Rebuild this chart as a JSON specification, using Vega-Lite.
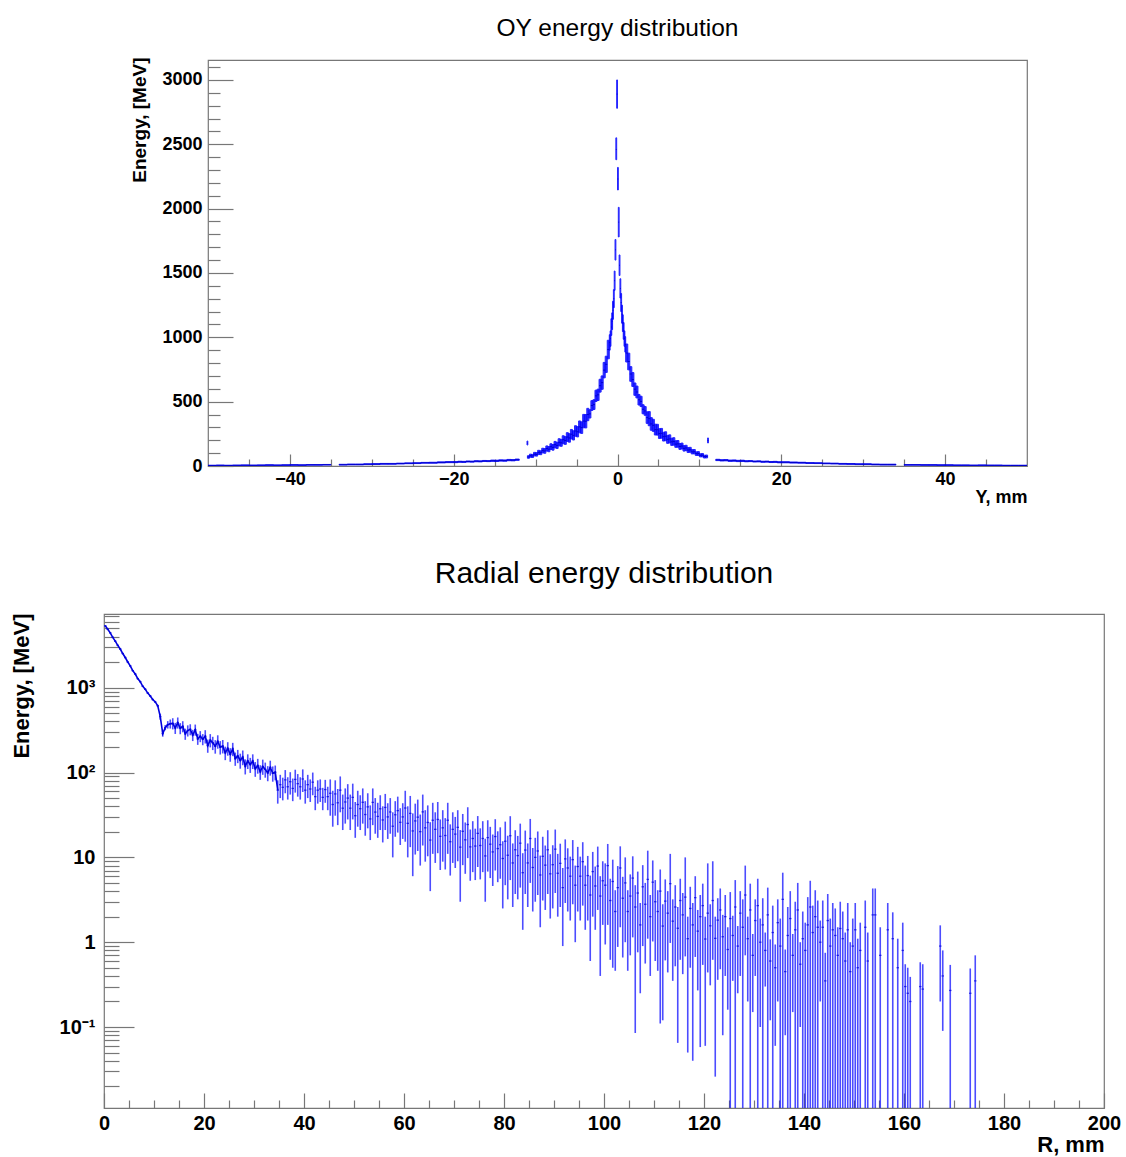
{
"$schema": "https://vega.github.io/schema/vega-lite/v6.json",
"background": "white",
"padding": {"left": 9, "top": 14, "right": 5, "bottom": 5},
"config": {
  "view": {"stroke": "#777777", "strokeWidth": 1.2},
  "font": "Liberation Sans",
  "axis": {"grid": false, "domain": false, "labelFont": "Liberation Sans", "labelFontWeight": "bold", "labelColor": "#000000", "titleFont": "Liberation Sans", "titleFontWeight": "bold", "titleColor": "#000000", "tickColor": "#777777", "tickWidth": 1.2, "labelOverlap": false, "labelFlush": false},
  "title": {"font": "Liberation Sans", "fontWeight": "normal", "color": "#000000"}
},
"spacing": 51,
"vconcat": [
{
  "spacing": 0,
  "align": "each",
  "hconcat": [
    {"width": 25, "height": 406, "data": {"values": [{}]}, "mark": {"type": "point", "opacity": 0}, "view": {"stroke": null}},
    {
      "width": 819, "height": 406,
      "title": {"text": "OY energy distribution", "fontSize": 24.5, "anchor": "middle", "frame": "group", "baseline": "alphabetic", "offset": -3},
      "data": {"values": [
{"a":-50,"b":-49,"v":4,"l":2,"h":6},{"a":-49,"b":-48,"v":5,"l":3,"h":7},{"a":-48,"b":-47,"v":4,"l":2,"h":6},{"a":-47,"b":-46,"v":5,"l":3,"h":7},{"a":-46,"b":-45,"v":6,"l":4,"h":8},{"a":-45,"b":-44,"v":5,"l":3,"h":7},{"a":-44,"b":-43,"v":6,"l":4,"h":8},{"a":-43,"b":-42,"v":7,"l":5,"h":9},{"a":-42,"b":-41,"v":6,"l":4,"h":8},{"a":-41,"b":-40,"v":7,"l":5,"h":9},
{"a":-40,"b":-39,"v":8,"l":6,"h":10},{"a":-39,"b":-38,"v":7,"l":5,"h":9},{"a":-38,"b":-37,"v":9,"l":7,"h":11},{"a":-37,"b":-36,"v":9,"l":7,"h":11},{"a":-36,"b":-35,"v":10,"l":8,"h":12},
{"a":-34,"b":-33,"v":10,"l":8,"h":13},{"a":-33,"b":-32,"v":12,"l":9,"h":15},{"a":-32,"b":-31,"v":12,"l":9,"h":15},{"a":-31,"b":-30,"v":14,"l":11,"h":17},{"a":-30,"b":-29,"v":15,"l":12,"h":18},{"a":-29,"b":-28,"v":17,"l":14,"h":20},{"a":-28,"b":-27,"v":17,"l":14,"h":20},{"a":-27,"b":-26,"v":19,"l":16,"h":22},{"a":-26,"b":-25,"v":21,"l":18,"h":24},{"a":-25,"b":-24,"v":22,"l":19,"h":25},{"a":-24,"b":-23,"v":25,"l":22,"h":28},{"a":-23,"b":-22,"v":25,"l":22,"h":29},{"a":-22,"b":-21,"v":28,"l":24,"h":32},{"a":-21,"b":-20,"v":30,"l":26,"h":34},
{"a":-20,"b":-19.5,"v":30,"l":26,"h":34},{"a":-19.5,"b":-19,"v":33,"l":29,"h":37},{"a":-19,"b":-18.5,"v":32,"l":28,"h":36},{"a":-18.5,"b":-18,"v":35,"l":31,"h":39},{"a":-18,"b":-17.5,"v":34,"l":30,"h":38},{"a":-17.5,"b":-17,"v":37,"l":33,"h":41},{"a":-17,"b":-16.5,"v":36,"l":32,"h":40},{"a":-16.5,"b":-16,"v":39,"l":35,"h":43},{"a":-16,"b":-15.5,"v":38,"l":34,"h":42},{"a":-15.5,"b":-15,"v":41,"l":36,"h":46},{"a":-15,"b":-14.5,"v":40,"l":35,"h":45},{"a":-14.5,"b":-14,"v":43,"l":38,"h":48},{"a":-14,"b":-13.5,"v":42,"l":37,"h":47},{"a":-13.5,"b":-13,"v":46,"l":41,"h":51},{"a":-13,"b":-12.5,"v":45,"l":40,"h":50},{"a":-12.5,"b":-12,"v":49,"l":44,"h":54},
{"a":-11.05,"b":-10.95,"v":178,"l":163,"h":194},
{"a":-11,"b":-10.75,"v":70,"l":60,"h":80},{"a":-10.75,"b":-10.5,"v":80,"l":68,"h":92},{"a":-10.5,"b":-10.25,"v":78,"l":66,"h":90},{"a":-10.25,"b":-10,"v":92,"l":78,"h":106},{"a":-10,"b":-9.75,"v":90,"l":77,"h":104},{"a":-9.75,"b":-9.5,"v":106,"l":90,"h":122},{"a":-9.5,"b":-9.25,"v":103,"l":88,"h":118},{"a":-9.25,"b":-9,"v":120,"l":102,"h":138},{"a":-9,"b":-8.75,"v":117,"l":99,"h":135},{"a":-8.75,"b":-8.5,"v":136,"l":116,"h":156},
{"a":-8.5,"b":-8.25,"v":131,"l":111,"h":151},{"a":-8.25,"b":-8,"v":150,"l":128,"h":173},{"a":-8,"b":-7.75,"v":145,"l":123,"h":167},{"a":-7.75,"b":-7.5,"v":166,"l":141,"h":191},{"a":-7.5,"b":-7.25,"v":160,"l":136,"h":184},{"a":-7.25,"b":-7,"v":184,"l":156,"h":212},{"a":-7,"b":-6.75,"v":180,"l":153,"h":207},{"a":-6.75,"b":-6.5,"v":204,"l":173,"h":235},{"a":-6.5,"b":-6.25,"v":198,"l":168,"h":228},{"a":-6.25,"b":-6,"v":225,"l":191,"h":259},
{"a":-6,"b":-5.75,"v":218,"l":185,"h":251},{"a":-5.75,"b":-5.5,"v":247,"l":210,"h":284},{"a":-5.5,"b":-5.25,"v":238,"l":202,"h":274},{"a":-5.25,"b":-5,"v":272,"l":231,"h":313},{"a":-5,"b":-4.75,"v":266,"l":226,"h":306},{"a":-4.75,"b":-4.5,"v":304,"l":258,"h":350},{"a":-4.5,"b":-4.25,"v":298,"l":253,"h":343},{"a":-4.25,"b":-4,"v":349,"l":297,"h":401},{"a":-4,"b":-3.75,"v":348,"l":296,"h":400},{"a":-3.75,"b":-3.5,"v":400,"l":352,"h":448},
{"a":-3.5,"b":-3.25,"v":405,"l":373,"h":437},{"a":-3.25,"b":-3,"v":470,"l":432,"h":508},{"a":-3,"b":-2.75,"v":477,"l":439,"h":515},{"a":-2.75,"b":-2.5,"v":545,"l":501,"h":589},{"a":-2.5,"b":-2.25,"v":553,"l":509,"h":597},{"a":-2.25,"b":-2,"v":624,"l":574,"h":674},{"a":-2,"b":-1.75,"v":648,"l":596,"h":700},{"a":-1.75,"b":-1.5,"v":745,"l":685,"h":805},{"a":-1.5,"b":-1.25,"v":790,"l":727,"h":853},{"a":-1.25,"b":-1,"v":905,"l":833,"h":977},
{"a":-1,"b":-0.9,"v":960,"l":900,"h":1020},{"a":-0.9,"b":-0.8,"v":990,"l":930,"h":1050},{"a":-0.8,"b":-0.7,"v":1080,"l":1015,"h":1145},{"a":-0.7,"b":-0.6,"v":1125,"l":1060,"h":1190},{"a":-0.6,"b":-0.5,"v":1210,"l":1140,"h":1280},{"a":-0.5,"b":-0.4,"v":1300,"l":1230,"h":1370},{"a":-0.4,"b":-0.3,"v":1440,"l":1365,"h":1515},{"a":-0.3,"b":-0.2,"v":1680,"l":1600,"h":1760},{"a":-0.2,"b":-0.1,"v":2460,"l":2380,"h":2550},{"a":-0.1,"b":0,"v":2890,"l":2780,"h":3000},
{"a":0,"b":0.1,"v":2230,"l":2145,"h":2320},{"a":0.1,"b":0.2,"v":1895,"l":1780,"h":2010},{"a":0.2,"b":0.3,"v":1560,"l":1480,"h":1640},{"a":0.3,"b":0.4,"v":1380,"l":1305,"h":1455},{"a":0.4,"b":0.5,"v":1270,"l":1200,"h":1340},{"a":0.5,"b":0.6,"v":1180,"l":1110,"h":1250},{"a":0.6,"b":0.7,"v":1110,"l":1045,"h":1175},{"a":0.7,"b":0.8,"v":1050,"l":985,"h":1115},{"a":0.8,"b":0.9,"v":990,"l":930,"h":1050},{"a":0.9,"b":1,"v":945,"l":885,"h":1005},
{"a":1,"b":1.25,"v":878,"l":808,"h":948},{"a":1.25,"b":1.5,"v":812,"l":747,"h":877},{"a":1.5,"b":1.75,"v":715,"l":658,"h":772},{"a":1.75,"b":2,"v":672,"l":618,"h":726},{"a":2,"b":2.25,"v":597,"l":549,"h":645},{"a":2.25,"b":2.5,"v":575,"l":529,"h":621},{"a":2.5,"b":2.75,"v":515,"l":474,"h":556},{"a":2.75,"b":3,"v":502,"l":462,"h":542},{"a":3,"b":3.25,"v":441,"l":406,"h":476},{"a":3.25,"b":3.5,"v":428,"l":394,"h":462},
{"a":3.5,"b":3.75,"v":376,"l":331,"h":421},{"a":3.75,"b":4,"v":368,"l":313,"h":423},{"a":4,"b":4.25,"v":327,"l":278,"h":376},{"a":4.25,"b":4.5,"v":316,"l":269,"h":363},{"a":4.5,"b":4.75,"v":283,"l":241,"h":325},{"a":4.75,"b":5,"v":282,"l":240,"h":324},{"a":5,"b":5.25,"v":252,"l":214,"h":290},{"a":5.25,"b":5.5,"v":254,"l":216,"h":292},{"a":5.5,"b":5.75,"v":228,"l":194,"h":262},{"a":5.75,"b":6,"v":231,"l":196,"h":266},
{"a":6,"b":6.25,"v":207,"l":176,"h":238},{"a":6.25,"b":6.5,"v":210,"l":179,"h":242},{"a":6.5,"b":6.75,"v":188,"l":160,"h":216},{"a":6.75,"b":7,"v":191,"l":162,"h":220},{"a":7,"b":7.25,"v":170,"l":145,"h":196},{"a":7.25,"b":7.5,"v":172,"l":146,"h":198},{"a":7.5,"b":7.75,"v":152,"l":129,"h":175},{"a":7.75,"b":8,"v":155,"l":132,"h":178},{"a":8,"b":8.25,"v":137,"l":116,"h":158},{"a":8.25,"b":8.5,"v":140,"l":119,"h":161},
{"a":8.5,"b":8.75,"v":124,"l":105,"h":143},{"a":8.75,"b":9,"v":126,"l":107,"h":145},{"a":9,"b":9.25,"v":110,"l":94,"h":127},{"a":9.25,"b":9.5,"v":111,"l":94,"h":128},{"a":9.5,"b":9.75,"v":96,"l":82,"h":110},{"a":9.75,"b":10,"v":97,"l":82,"h":112},{"a":10,"b":10.25,"v":83,"l":71,"h":95},{"a":10.25,"b":10.5,"v":84,"l":71,"h":97},{"a":10.5,"b":10.75,"v":73,"l":62,"h":84},{"a":10.75,"b":11,"v":74,"l":63,"h":85},
{"a":11,"b":11.1,"v":198,"l":179,"h":218},
{"a":12,"b":12.5,"v":47,"l":42,"h":52},{"a":12.5,"b":13,"v":44,"l":39,"h":49},{"a":13,"b":13.5,"v":45,"l":40,"h":50},{"a":13.5,"b":14,"v":41,"l":36,"h":46},{"a":14,"b":14.5,"v":42,"l":37,"h":47},{"a":14.5,"b":15,"v":39,"l":34,"h":44},{"a":15,"b":15.5,"v":40,"l":35,"h":45},{"a":15.5,"b":16,"v":37,"l":33,"h":41},{"a":16,"b":16.5,"v":38,"l":34,"h":42},{"a":16.5,"b":17,"v":35,"l":31,"h":39},{"a":17,"b":17.5,"v":36,"l":32,"h":40},{"a":17.5,"b":18,"v":33,"l":29,"h":37},{"a":18,"b":18.5,"v":34,"l":30,"h":38},{"a":18.5,"b":19,"v":31,"l":27,"h":35},{"a":19,"b":19.5,"v":32,"l":28,"h":36},{"a":19.5,"b":20,"v":29,"l":25,"h":33},
{"a":20,"b":21,"v":29,"l":25,"h":33},{"a":21,"b":22,"v":27,"l":23,"h":31},{"a":22,"b":23,"v":26,"l":22,"h":29},{"a":23,"b":24,"v":23,"l":20,"h":26},{"a":24,"b":25,"v":22,"l":19,"h":25},{"a":25,"b":26,"v":20,"l":17,"h":23},{"a":26,"b":27,"v":19,"l":16,"h":22},{"a":27,"b":28,"v":17,"l":14,"h":20},{"a":28,"b":29,"v":16,"l":13,"h":19},{"a":29,"b":30,"v":14,"l":11,"h":17},{"a":30,"b":31,"v":14,"l":11,"h":17},{"a":31,"b":32,"v":12,"l":9,"h":15},{"a":32,"b":33,"v":11,"l":8,"h":14},{"a":33,"b":34,"v":11,"l":8,"h":14},
{"a":35,"b":36,"v":9,"l":7,"h":11},{"a":36,"b":37,"v":9,"l":7,"h":11},{"a":37,"b":38,"v":8,"l":6,"h":10},{"a":38,"b":39,"v":8,"l":6,"h":10},{"a":39,"b":40,"v":7,"l":5,"h":9},{"a":40,"b":41,"v":7,"l":5,"h":9},{"a":41,"b":42,"v":6,"l":4,"h":8},{"a":42,"b":43,"v":6,"l":4,"h":8},{"a":43,"b":44,"v":5,"l":3,"h":7},{"a":44,"b":45,"v":6,"l":4,"h":8},{"a":45,"b":46,"v":5,"l":3,"h":7},{"a":46,"b":47,"v":5,"l":3,"h":7},{"a":47,"b":48,"v":4,"l":2,"h":6},{"a":48,"b":49,"v":4,"l":2,"h":6},{"a":49,"b":50,"v":4,"l":2,"h":6}
      ]},
      "layer": [
        {
          "mark": {"type": "rect", "color": "#0000ff", "stroke": "#0000ff", "strokeWidth": 1, "opacity": 0.85, "clip": true},
          "encoding": {
            "x": {"field": "a", "type": "quantitative", "scale": {"domain": [-50, 50], "nice": false, "zero": false},
                  "axis": {"orient": "bottom", "values": [-40, -20, 0, 20, 40], "tickSize": -12, "labelPadding": 30, "labelBaseline": "alphabetic", "labelFontSize": 18, "format": "d", "title": "Y, mm", "titleFontSize": 18, "titleAnchor": "end", "titleAlign": "right", "titleBaseline": "alphabetic", "titleX": 819, "titleY": 36}},
            "x2": {"field": "b"},
            "y": {"field": "l", "type": "quantitative", "scale": {"domain": [0, 3155], "nice": false},
                  "axis": {"orient": "left", "values": [0, 500, 1000, 1500, 2000, 2500, 3000], "tickSize": -25, "labelPadding": 31, "labelFontSize": 18, "format": "d", "title": "Energy, [MeV]", "titleFontSize": 19, "titleAngle": 270, "titleAnchor": "end", "titleAlign": "right", "titleBaseline": "alphabetic", "titleX": -63, "titleY": -3}},
            "y2": {"field": "h"}
          }
        },
        {
          "mark": {"type": "rule", "color": "#0000cc", "strokeWidth": 1, "clip": true},
          "encoding": {
            "x": {"field": "a", "type": "quantitative", "scale": {"domain": [-50, 50], "nice": false, "zero": false},
                  "axis": {"orient": "bottom", "values": [-45, -35, -30, -25, -15, -10, -5, 5, 10, 15, 25, 30, 35, 45], "tickSize": -7, "labels": false, "title": null}},
            "x2": {"field": "b"},
            "y": {"field": "v", "type": "quantitative", "scale": {"domain": [0, 3155], "nice": false},
                  "axis": {"orient": "left", "values": [100, 200, 300, 400, 600, 700, 800, 900, 1100, 1200, 1300, 1400, 1600, 1700, 1800, 1900, 2100, 2200, 2300, 2400, 2600, 2700, 2800, 2900, 3100], "tickSize": -12, "labels": false, "title": null}}
          }
        }
      ],
      "resolve": {"axis": {"x": "independent", "y": "independent"}}
    }
  ]
},
{
  "width": 1000, "height": 494,
  "title": {"text": "Radial energy distribution", "fontSize": 30, "anchor": "middle", "frame": "group", "baseline": "alphabetic", "offset": 0},
  "data": {"values": [
{"r":0.25,"v":5370,"l":5260,"h":5480},{"r":0.75,"v":4880,"l":4780,"h":4980},{"r":1.25,"v":4440,"l":4350,"h":4530},{"r":1.75,"v":3930,"l":3850,"h":4010},{"r":2.25,"v":3540,"l":3470,"h":3610},{"r":2.75,"v":3160,"l":3100,"h":3220},{"r":3.25,"v":2860,"l":2800,"h":2920},{"r":3.75,"v":2530,"l":2480,"h":2580},{"r":4.25,"v":2270,"l":2220,"h":2320},{"r":4.75,"v":2010,"l":1970,"h":2050},
{"r":5.25,"v":1810,"l":1770,"h":1850},{"r":5.75,"v":1590,"l":1560,"h":1620},{"r":6.25,"v":1450,"l":1420,"h":1480},{"r":6.75,"v":1280,"l":1250,"h":1310},{"r":7.25,"v":1180,"l":1150,"h":1210},{"r":7.75,"v":1040,"l":1020,"h":1060},{"r":8.25,"v":960,"l":940,"h":980},{"r":8.75,"v":865,"l":845,"h":885},{"r":9.25,"v":800,"l":780,"h":820},{"r":9.75,"v":725,"l":708,"h":742},
{"r":10.25,"v":680,"l":660,"h":700},{"r":10.75,"v":612,"l":594,"h":630},{"r":11.25,"v":457,"l":420,"h":495},{"r":11.75,"v":288,"l":265,"h":311},{"r":12.25,"v":339,"l":315,"h":363},{"r":12.75,"v":367,"l":330,"h":404},{"r":13.25,"v":376,"l":330,"h":422},
{"r":13.75,"v":380,"l":323,"h":437},{"r":14.25,"v":335,"l":285,"h":385},{"r":14.75,"v":388,"l":330,"h":446},{"r":15.25,"v":333,"l":283,"h":383},{"r":15.75,"v":350,"l":298,"h":403},{"r":16.25,"v":286,"l":243,"h":329},{"r":16.75,"v":313,"l":266,"h":360},{"r":17.25,"v":323,"l":275,"h":371},{"r":17.75,"v":277,"l":235,"h":319},{"r":18.25,"v":320,"l":272,"h":368},
{"r":18.75,"v":249,"l":212,"h":286},{"r":19.25,"v":268,"l":228,"h":308},{"r":19.75,"v":247,"l":210,"h":284},{"r":20.25,"v":268,"l":220,"h":316},{"r":20.75,"v":208,"l":171,"h":245},{"r":21.25,"v":241,"l":198,"h":284},{"r":21.75,"v":224,"l":184,"h":264},{"r":22.25,"v":204,"l":167,"h":241},{"r":22.75,"v":233,"l":191,"h":275},{"r":23.25,"v":199,"l":163,"h":235},
{"r":23.75,"v":205,"l":168,"h":242},{"r":24.25,"v":171,"l":140,"h":202},{"r":24.75,"v":193,"l":158,"h":228},{"r":25.25,"v":164,"l":134,"h":194},{"r":25.75,"v":190,"l":156,"h":224},{"r":26.25,"v":146,"l":120,"h":172},{"r":26.75,"v":157,"l":129,"h":185},{"r":27.25,"v":139,"l":111,"h":167},{"r":27.75,"v":152,"l":122,"h":182},{"r":28.25,"v":119,"l":95,"h":143},
{"r":28.75,"v":137,"l":110,"h":164},{"r":29.25,"v":124,"l":99,"h":149},{"r":29.75,"v":137,"l":110,"h":164},{"r":30.25,"v":111,"l":89,"h":133},{"r":30.75,"v":121,"l":97,"h":145},{"r":31.25,"v":102,"l":82,"h":122},{"r":31.75,"v":118,"l":94,"h":142},{"r":32.25,"v":109,"l":87,"h":131},{"r":32.75,"v":99,"l":79,"h":119},{"r":33.25,"v":115,"l":92,"h":138},
{"r":33.75,"v":98,"l":78,"h":118},{"r":34.25,"v":101,"l":81,"h":121},
{"r":34.75,"v":62,"l":43,"h":81},{"r":35.25,"v":72,"l":50,"h":94},{"r":35.75,"v":67,"l":47,"h":87},{"r":36.25,"v":82,"l":57,"h":107},{"r":36.75,"v":68,"l":48,"h":88},{"r":37.25,"v":78,"l":55,"h":101},{"r":37.75,"v":65,"l":46,"h":85},{"r":38.25,"v":83,"l":58,"h":108},{"r":38.75,"v":74,"l":52,"h":96},{"r":39.25,"v":68,"l":48,"h":88},
{"r":39.75,"v":84,"l":59,"h":109},{"r":40.25,"v":62,"l":43,"h":81},{"r":40.75,"v":72,"l":50,"h":94},{"r":41.25,"v":64,"l":45,"h":83},{"r":41.75,"v":77,"l":54,"h":100},{"r":42.25,"v":52,"l":36,"h":68},{"r":42.75,"v":62,"l":43,"h":81},{"r":43.25,"v":64,"l":45,"h":83},{"r":43.75,"v":51,"l":36,"h":66},{"r":44.25,"v":63,"l":44,"h":82},
{"r":44.75,"v":52,"l":36,"h":68},{"r":45.25,"v":57,"l":31,"h":83},{"r":45.75,"v":42,"l":23,"h":61},{"r":46.25,"v":56,"l":31,"h":81},{"r":46.75,"v":44,"l":24,"h":64},{"r":47.25,"v":62,"l":34,"h":90},{"r":47.75,"v":38,"l":21,"h":55},{"r":48.25,"v":45,"l":25,"h":65},{"r":48.75,"v":50,"l":28,"h":73},{"r":49.25,"v":38,"l":21,"h":55},
{"r":49.75,"v":51,"l":28,"h":74},{"r":50.25,"v":31,"l":17,"h":45},{"r":50.75,"v":42,"l":23,"h":61},{"r":51.25,"v":37.5,"l":21,"h":54},{"r":51.75,"v":44.6,"l":25,"h":65},{"r":52.25,"v":32,"l":18,"h":46},{"r":52.75,"v":39.4,"l":22,"h":57},{"r":53.25,"v":28.4,"l":16,"h":41},{"r":53.75,"v":44.5,"l":24,"h":65},{"r":54.25,"v":34.2,"l":19,"h":50},
{"r":54.75,"v":30.4,"l":17,"h":44},{"r":55.25,"v":37.4,"l":21,"h":54},{"r":55.75,"v":27.6,"l":15,"h":40},{"r":56.25,"v":38.8,"l":21,"h":56},{"r":56.75,"v":30,"l":16.5,"h":43.5},{"r":57.25,"v":34.3,"l":19,"h":50},{"r":57.75,"v":23.3,"l":10,"h":34},{"r":58.25,"v":31.8,"l":17.5,"h":46},{"r":58.75,"v":35.6,"l":19.6,"h":52},{"r":59.25,"v":25.9,"l":14,"h":38},
{"r":59.75,"v":30,"l":16.5,"h":43.5},{"r":60.25,"v":38.2,"l":15.3,"h":61},{"r":60.75,"v":25.2,"l":10,"h":40},{"r":61.25,"v":33,"l":13.2,"h":53},{"r":61.75,"v":20.5,"l":6,"h":33},{"r":62.25,"v":26.9,"l":10.8,"h":43},{"r":62.75,"v":29.8,"l":11.9,"h":48},{"r":63.25,"v":20.1,"l":8,"h":32},{"r":63.75,"v":34.4,"l":13.8,"h":55},{"r":64.25,"v":22.3,"l":8.9,"h":36},
{"r":64.75,"v":25.8,"l":10.3,"h":41},{"r":65.25,"v":16,"l":4,"h":26},{"r":65.75,"v":27.4,"l":11,"h":44},{"r":66.25,"v":21.4,"l":8.6,"h":34},{"r":66.75,"v":28,"l":11.2,"h":45},{"r":67.25,"v":17.7,"l":7.1,"h":28},{"r":67.75,"v":22.3,"l":8.9,"h":36},{"r":68.25,"v":18.1,"l":7.2,"h":29},{"r":68.75,"v":27.4,"l":11,"h":44},{"r":69.25,"v":15.3,"l":6.1,"h":24.5},
{"r":69.75,"v":21.4,"l":8.6,"h":34},{"r":70.25,"v":18.8,"l":7.5,"h":30},{"r":70.75,"v":22.6,"l":9,"h":36},{"r":71.25,"v":13.2,"l":3,"h":21},{"r":71.75,"v":20.3,"l":8.1,"h":32.5},{"r":72.25,"v":16.1,"l":6.4,"h":25.8},{"r":72.75,"v":24.4,"l":9.8,"h":39},{"r":73.25,"v":13.3,"l":5.3,"h":21.3},{"r":73.75,"v":16.7,"l":6.7,"h":26.7},{"r":74.25,"v":13.6,"l":5.4,"h":21.8},
{"r":74.75,"v":19.2,"l":7.7,"h":30.7},{"r":75.25,"v":13.8,"l":5.5,"h":22},{"r":75.75,"v":16.7,"l":6.7,"h":26.7},{"r":76.25,"v":10.4,"l":3,"h":16.6},{"r":76.75,"v":17.1,"l":6.8,"h":27.4},{"r":77.25,"v":14.3,"l":5.7,"h":22.9},{"r":77.75,"v":11.6,"l":4.6,"h":18.6},{"r":78.25,"v":17.6,"l":7,"h":28.2},{"r":78.75,"v":12.7,"l":5.1,"h":20.3},{"r":79.25,"v":14.1,"l":5.6,"h":22.6},
{"r":79.75,"v":9.7,"l":2.5,"h":15.5},{"r":80.25,"v":15.5,"l":4.7,"h":26.4},{"r":80.75,"v":10.6,"l":3.2,"h":18},{"r":81.25,"v":18,"l":5.4,"h":30.6},{"r":81.75,"v":8.6,"l":2.6,"h":14.6},{"r":82.25,"v":12.3,"l":3.7,"h":20.9},{"r":82.75,"v":10.5,"l":3.2,"h":17.9},{"r":83.25,"v":14.7,"l":4.4,"h":25},{"r":83.75,"v":6.6,"l":1.4,"h":11.2},{"r":84.25,"v":12.2,"l":3.7,"h":20.7},
{"r":84.75,"v":8.6,"l":2.6,"h":14.6},{"r":85.25,"v":16.7,"l":5,"h":28.4},{"r":85.75,"v":7.6,"l":2.3,"h":12.9},{"r":86.25,"v":10,"l":3,"h":17},{"r":86.75,"v":11.9,"l":3.6,"h":20.2},{"r":87.25,"v":6.2,"l":1.5,"h":10.5},{"r":87.75,"v":10.3,"l":3.1,"h":17.5},{"r":88.25,"v":8.1,"l":2.4,"h":13.8},{"r":88.75,"v":12.3,"l":3.7,"h":20.9},{"r":89.25,"v":6.4,"l":1.9,"h":10.9},
{"r":89.75,"v":8.2,"l":2.5,"h":13.9},{"r":90.25,"v":12.5,"l":3.8,"h":21.3},{"r":90.75,"v":6.5,"l":2,"h":11},{"r":91.25,"v":8.5,"l":2.6,"h":14.5},{"r":91.75,"v":4.4,"l":0.9,"h":7.5},{"r":92.25,"v":9.6,"l":2.9,"h":16.3},{"r":92.75,"v":7.5,"l":2.3,"h":12.8},{"r":93.25,"v":6,"l":1.8,"h":10.2},{"r":93.75,"v":9.4,"l":2.8,"h":16},{"r":94.25,"v":4.7,"l":1,"h":8},
{"r":94.75,"v":7.8,"l":2.3,"h":13.3},{"r":95.25,"v":6,"l":1.8,"h":10.2},{"r":95.75,"v":8.9,"l":2.7,"h":15.1},{"r":96.25,"v":4.7,"l":1.4,"h":8},{"r":96.75,"v":6.1,"l":1.8,"h":10.4},{"r":97.25,"v":3.6,"l":0.6,"h":6.1},{"r":97.75,"v":6.8,"l":2,"h":11.6},{"r":98.25,"v":4.6,"l":1.4,"h":7.8},{"r":98.75,"v":7.9,"l":2.4,"h":13.4},{"r":99.25,"v":3.5,"l":0.4,"h":6},
{"r":99.75,"v":5.3,"l":1.6,"h":9},{"r":100.25,"v":4.7,"l":0.94,"h":8.5},{"r":100.75,"v":8,"l":1.6,"h":14.4},{"r":101.25,"v":3.1,"l":0.62,"h":5.6},{"r":101.75,"v":5.2,"l":0.5,"h":9.4},{"r":102.25,"v":2.3,"l":0.46,"h":4.1},{"r":102.75,"v":4.4,"l":0.88,"h":7.9},{"r":103.25,"v":7.5,"l":1.5,"h":13.5},{"r":103.75,"v":3.3,"l":0.66,"h":5.9},{"r":104.25,"v":5,"l":1,"h":10},
{"r":104.75,"v":2.3,"l":0.46,"h":4.1},{"r":105.25,"v":3.5,"l":0.7,"h":6.3},{"r":105.75,"v":5.7,"l":1.14,"h":10.3},{"r":106.25,"v":2.6,"l":0.085,"h":4.7},{"r":106.75,"v":3.8,"l":0.76,"h":6.8},{"r":107.25,"v":1.6,"l":0.25,"h":2.9},{"r":107.75,"v":4.5,"l":0.9,"h":8.1},{"r":108.25,"v":2.8,"l":0.56,"h":5},{"r":108.75,"v":5.5,"l":1.1,"h":12},{"r":109.25,"v":2,"l":0.4,"h":3.6},
{"r":109.75,"v":5.1,"l":1.02,"h":9.2},{"r":110.25,"v":3,"l":0.6,"h":5.4},{"r":110.75,"v":2.3,"l":0.46,"h":4.1},{"r":111.25,"v":4,"l":0.11,"h":7.2},{"r":111.75,"v":1.55,"l":0.12,"h":2.8},{"r":112.25,"v":3.05,"l":0.61,"h":5.5},{"r":112.75,"v":2.2,"l":0.44,"h":4},{"r":113.25,"v":4.9,"l":0.98,"h":11},{"r":113.75,"v":1.77,"l":0.35,"h":3.2},{"r":114.25,"v":2.6,"l":0.52,"h":4.7},
{"r":114.75,"v":1.46,"l":0.065,"h":2.6},{"r":115.25,"v":3.1,"l":0.62,"h":5.6},{"r":115.75,"v":2.1,"l":0.42,"h":3.8},{"r":116.25,"v":3.4,"l":0.68,"h":10},{"r":116.75,"v":1.1,"l":0.05,"h":2},{"r":117.25,"v":2.5,"l":0.5,"h":4.5},{"r":117.75,"v":1.6,"l":0.04,"h":2.9},{"r":118.25,"v":3.35,"l":0.67,"h":6},{"r":118.75,"v":1.35,"l":0.27,"h":2.4},{"r":119.25,"v":2,"l":0.058,"h":3.6},
{"r":119.75,"v":2.7,"l":0.54,"h":4.9},{"r":120.25,"v":1.09,"l":0.06,"h":2},{"r":120.75,"v":2.2,"l":0.44,"h":8.5},{"r":121.25,"v":1.56,"l":0.31,"h":2.8},{"r":121.75,"v":3.1,"l":0.62,"h":9},{"r":122.25,"v":1.11,"l":0.026,"h":2},{"r":122.75,"v":1.82,"l":0.36,"h":3.3},{"r":123.25,"v":2.4,"l":0.48,"h":4.3},{"r":123.75,"v":1.16,"l":0.08,"h":2.1},{"r":124.25,"v":2,"l":0.4,"h":3.6},
{"r":124.75,"v":0.82,"l":0.16,"h":1.5},{"r":125.25,"v":1.9,"l":0.001,"h":3.9},{"r":125.75,"v":1.2,"l":0.35,"h":2.05},{"r":126.25,"v":2.6,"l":0.001,"h":5.4},{"r":126.75,"v":0.9,"l":0.25,"h":1.55},{"r":127.25,"v":2.2,"l":0.4,"h":4},{"r":127.75,"v":1.5,"l":0.001,"h":3.2},{"r":128.25,"v":3.6,"l":0.7,"h":8},{"r":128.75,"v":1.1,"l":0.2,"h":2},{"r":129.25,"v":2.4,"l":0.001,"h":4.9},
{"r":129.75,"v":0.7,"l":0.15,"h":1.25},{"r":130.25,"v":1.8,"l":0.4,"h":3.2},{"r":130.75,"v":2.7,"l":0.001,"h":5.6},{"r":131.25,"v":1,"l":0.1,"h":1.9},{"r":131.75,"v":1.6,"l":0.001,"h":3.3},{"r":132.25,"v":0.8,"l":0.3,"h":1.3},{"r":132.75,"v":2.1,"l":0.001,"h":4.4},{"r":133.25,"v":0.6,"l":0.12,"h":1.08},{"r":133.75,"v":1.3,"l":0.001,"h":2.7},{"r":134.25,"v":0.5,"l":0.06,"h":0.94},
{"r":134.75,"v":1.7,"l":0.2,"h":3.2},{"r":135.25,"v":0.9,"l":0.001,"h":1.9},{"r":135.75,"v":3.2,"l":0.001,"h":6.6},{"r":136.25,"v":0.45,"l":0.08,"h":0.82},{"r":136.75,"v":1.2,"l":0.001,"h":2.6},{"r":137.25,"v":1.9,"l":0.001,"h":4},{"r":137.75,"v":0.7,"l":0.15,"h":1.25},{"r":138.25,"v":1.4,"l":0.001,"h":3},{"r":138.75,"v":2.4,"l":0.001,"h":5},{"r":139.25,"v":0.55,"l":0.1,"h":1},
{"r":139.75,"v":1.1,"l":0.001,"h":2.3},{"r":140.25,"v":0.8,"l":0.001,"h":1.7},{"r":140.75,"v":1.6,"l":0.001,"h":3.4},{"r":141.25,"v":2.6,"l":0.001,"h":5.3},{"r":141.75,"v":1.3,"l":0.001,"h":2.7},{"r":142.25,"v":2,"l":0.001,"h":4.1},{"r":142.75,"v":1.5,"l":0.001,"h":3.1},{"r":143.25,"v":1,"l":0.2,"h":1.8},{"r":143.75,"v":1.5,"l":0.001,"h":3.1},{"r":144.25,"v":0.35,"l":0.001,"h":0.75},
{"r":144.75,"v":1.8,"l":0.001,"h":3.7},{"r":145.25,"v":0.9,"l":0.001,"h":1.9},{"r":145.75,"v":1.4,"l":0.001,"h":2.9},{"r":146.25,"v":1.2,"l":0.001,"h":2.5},{"r":146.75,"v":0.7,"l":0.001,"h":1.5},{"r":147.25,"v":1.45,"l":0.001,"h":3},{"r":147.75,"v":1.1,"l":0.001,"h":2.3},{"r":148.25,"v":0.6,"l":0.001,"h":1.3},{"r":148.75,"v":1.4,"l":0.001,"h":2.9},{"r":149.25,"v":0.45,"l":0.001,"h":1},
{"r":149.75,"v":0.9,"l":0.001,"h":1.9},{"r":150.25,"v":1.4,"l":0.001,"h":2.9},{"r":150.75,"v":0.5,"l":0.001,"h":1.1},{"r":151.25,"v":0.8,"l":0.001,"h":1.7},{"r":152.25,"v":1.5,"l":0.001,"h":3.1},{"r":152.75,"v":0.6,"l":0.001,"h":1.3},{"r":153.75,"v":2.1,"l":0.001,"h":4.3},{"r":154.25,"v":2.1,"l":0.001,"h":4.3},{"r":155.25,"v":0.7,"l":0.001,"h":1.5},{"r":156.75,"v":1.4,"l":0.001,"h":2.9},
{"r":157.75,"v":1.1,"l":0.001,"h":2.25},{"r":158.75,"v":0.5,"l":0.001,"h":1.1},{"r":159.75,"v":0.8,"l":0.001,"h":1.7},{"r":160.25,"v":0.3,"l":0.001,"h":0.55},{"r":160.75,"v":0.25,"l":0.001,"h":0.5},{"r":161.25,"v":0.2,"l":0.001,"h":0.39},{"r":163.25,"v":0.3,"l":0.001,"h":0.58},{"r":163.75,"v":0.28,"l":0.001,"h":0.55},{"r":167.25,"v":0.9,"l":0.2,"h":1.58},{"r":167.75,"v":0.4,"l":0.09,"h":0.8},
{"r":169.25,"v":0.27,"l":0.001,"h":0.54},{"r":173.25,"v":0.25,"l":0.001,"h":0.49},{"r":174.25,"v":0.35,"l":0.001,"h":0.7}
  ]},
  "layer": [
    {
      "mark": {"type": "rule", "color": "#0000ff", "opacity": 0.7, "strokeWidth": 1.6, "clip": true},
      "encoding": {
        "x": {"field": "r", "type": "quantitative", "scale": {"domain": [0, 200], "nice": false, "zero": false},
              "axis": {"orient": "bottom", "values": [0, 20, 40, 60, 80, 100, 120, 140, 160, 180, 200], "tickSize": -15, "labelPadding": 36, "labelBaseline": "alphabetic", "labelFontSize": 20, "format": "d", "title": "R, mm", "titleFontSize": 22, "titleAnchor": "end", "titleAlign": "right", "titleBaseline": "alphabetic", "titleX": 1000, "titleY": 43}},
        "y": {"field": "l", "type": "quantitative", "scale": {"type": "log", "domain": [0.0111, 7400], "nice": false, "clamp": true},
              "axis": {"orient": "left", "values": [0.1, 1, 10, 100, 1000], "tickSize": -30, "labelPadding": 39, "labelFontSize": 20, "labelExpr": "datum.value >= 999 ? '10³' : datum.value >= 99 ? '10²' : datum.value >= 9 ? '10' : datum.value >= 0.9 ? '1' : '10⁻¹'", "title": "Energy, [MeV]", "titleFontSize": 22, "titleAngle": 270, "titleAnchor": "end", "titleAlign": "right", "titleBaseline": "alphabetic", "titleX": -76, "titleY": -1}},
        "y2": {"field": "h"}
      }
    },
    {
      "mark": {"type": "tick", "color": "#0000dd", "orient": "horizontal", "size": 2.5, "thickness": 1.3, "clip": true},
      "encoding": {
        "x": {"field": "r", "type": "quantitative", "scale": {"domain": [0, 200], "nice": false, "zero": false},
              "axis": {"orient": "bottom", "values": [5, 10, 15, 25, 30, 35, 45, 50, 55, 65, 70, 75, 85, 90, 95, 105, 110, 115, 125, 130, 135, 145, 150, 155, 165, 170, 175, 185, 190, 195], "tickSize": -8, "labels": false, "title": null}},
        "y": {"field": "v", "type": "quantitative", "scale": {"type": "log", "domain": [0.0111, 7400], "nice": false, "clamp": true},
              "axis": {"orient": "left", "values": [0.02, 0.03, 0.04, 0.05, 0.06, 0.07, 0.08, 0.09, 0.2, 0.3, 0.4, 0.5, 0.6, 0.7, 0.8, 0.9, 2, 3, 4, 5, 6, 7, 8, 9, 20, 30, 40, 50, 60, 70, 80, 90, 200, 300, 400, 500, 600, 700, 800, 900, 2000, 3000, 4000, 5000, 6000, 7000], "tickSize": -15, "labels": false, "title": null}}
      }
    },
    {
      "transform": [{"filter": "datum.r < 35"}],
      "mark": {"type": "line", "color": "#0000dd", "strokeWidth": 1.6, "clip": true},
      "encoding": {
        "x": {"field": "r", "type": "quantitative", "scale": {"domain": [0, 200], "nice": false, "zero": false}, "axis": null},
        "y": {"field": "v", "type": "quantitative", "scale": {"type": "log", "domain": [0.0111, 7400], "nice": false, "clamp": true}, "axis": null}
      }
    }
  ],
  "resolve": {"axis": {"x": "independent", "y": "independent"}}
}
]
}
